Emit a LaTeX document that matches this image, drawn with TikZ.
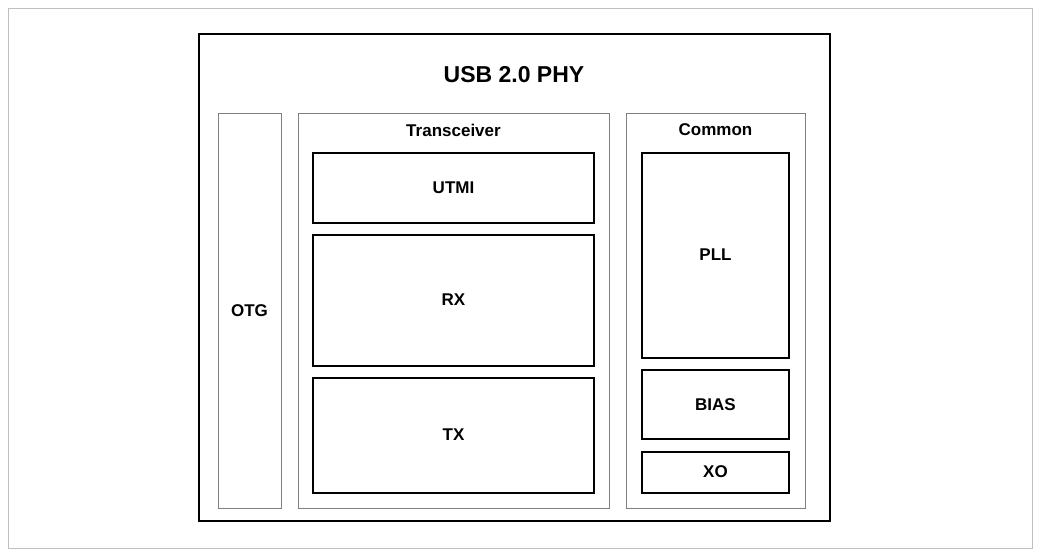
\documentclass[tikz,border=0pt]{standalone}
\usepackage{fontspec}
\setmainfont{Liberation Sans}
\tikzset{
  part/.style={draw=black,line width=1.5pt,inner sep=0pt},
  group/.style={draw=gray,line width=1pt,inner sep=0pt},
  lbl/.style={font=\fontsize{17}{17}\selectfont\bfseries},
}
\begin{document}
\begin{tikzpicture}[x=1pt,y=-1pt]
  \draw[draw=black!25,line width=1pt] (8,8) rectangle (1032,548);
  \useasboundingbox (0,0) rectangle (1041,557);
  % main frame
  \draw[line width=2pt] (199,34) rectangle (830,521);
  \node[font=\fontsize{23}{23}\selectfont\bfseries] (title) at (514,75) {USB 2.0 PHY};
  % groups
  \draw[group] (218,113) rectangle (281,508);
  \node[lbl] (otg) at (249.5,311) {OTG};
  \draw[group] (298,113) rectangle (609,508);
  \node[lbl] (trx) at (453.5,130) {Transceiver};
  \draw[group] (626,113) rectangle (805,508);
  \node[lbl] (common) at (715.5,130) {Common};
  % blocks
  \draw[part] (313,153) rectangle (594,223);
  \node[lbl] (utmi) at (453.5,188) {UTMI};
  \draw[part] (313,235) rectangle (594,366);
  \node[lbl] (rx) at (453.5,300) {RX};
  \draw[part] (313,378) rectangle (594,493);
  \node[lbl] (tx) at (453.5,435) {TX};
  \draw[part] (642,153) rectangle (789,358);
  \node[lbl] (pll) at (715.5,255) {PLL};
  \draw[part] (642,370) rectangle (789,439);
  \node[lbl] (bias) at (715.5,405) {BIAS};
  \draw[part] (642,452) rectangle (789,493);
  \node[lbl] (xo) at (715.5,472) {XO};
\end{tikzpicture}
\end{document}
